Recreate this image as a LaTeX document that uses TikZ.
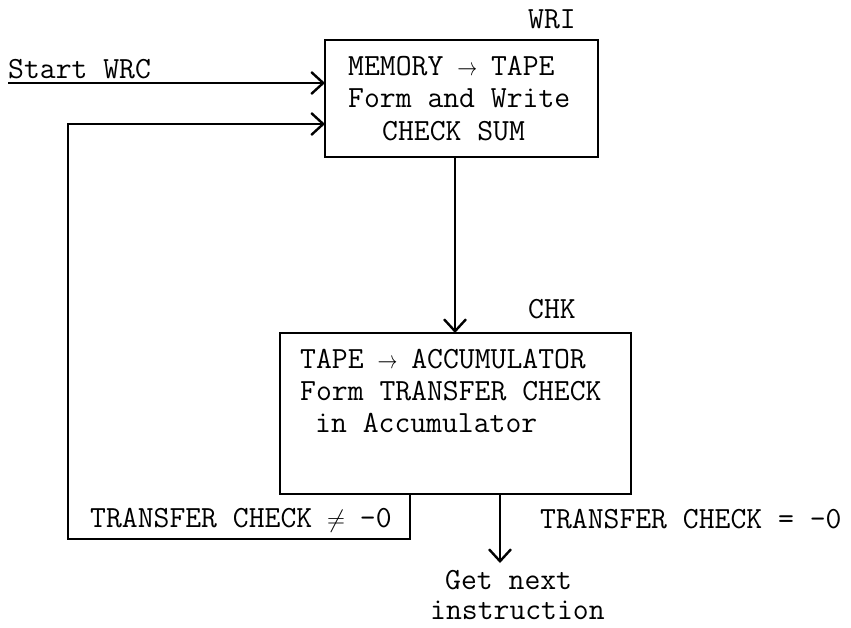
\documentclass[tikz,border=0pt]{standalone}
\usepackage{graphicx}
\usetikzlibrary{arrows.meta}
\begin{document}
\begin{tikzpicture}[x=1pt,y=-1pt,
  boxshape/.style={draw, line width=1.6pt, inner sep=0pt, outer sep=0pt},
  conn/.style={line width=1.4pt, -{Straight Barb[length=12pt,width=22pt,line width=2.4pt]}},
  txt/.style={inner sep=0pt, anchor=base west, font=\ttfamily\fontsize{30.8}{32}\selectfont}]
\useasboundingbox[fill=white] (0,0) rectangle (851,627);
\newcommand{\myarrow}{\makebox[16pt]{\scalebox{0.8}[1]{$\rightarrow$}}}
\newcommand{\myneq}{\makebox[16pt]{$\neq$}}
% boxes
\node[boxshape, minimum width=273pt, minimum height=117pt] (wri) at (461.5,98.5) {};
\node[boxshape, minimum width=351pt, minimum height=161pt] (chk) at (455.5,413.5) {};
% labels
\node[txt] (wrilabel) at (528,28) {WRI};
\node[txt] (chklabel) at (528,318) {CHK};
\node[txt] (start) at (8,78) {Start WRC};
\node[txt] (w1) at (348,75) {MEMORY \myarrow{} TAPE};
\node[txt] (w2) at (348,107.5) {Form and Write};
\node[txt] (w3) at (382,140) {CHECK SUM};
\node[txt] (c1) at (300,368) {TAPE \myarrow{} ACCUMULATOR};
\node[txt] (c2) at (300,400) {Form TRANSFER CHECK};
\node[txt] (c3) at (315,432) {in Accumulator};
\node[txt] (neq) at (90,527) {TRANSFER CHECK \myneq{} -0};
\node[txt] (eq) at (540,528) {TRANSFER CHECK = -0};
\node[txt] (g1) at (445,589) {Get next};
\node[txt] (g2) at (430,619) {instruction};
% coordinates
\coordinate (startpt) at (8,83);
\coordinate (lt) at (68,124);
\coordinate (ll) at (68,539);
\coordinate (lr) at (410,539);
\coordinate (v1) at (455,0);
\coordinate (dn) at (500,563);
% connectors
\draw[conn] (startpt) -- (startpt -| wri.west);
\draw[conn] (lr |- chk.south) -- (lr) -- (ll) -- (lt) -- (lt -| wri.west);
\draw[conn] (wri.south -| v1) -- (chk.north -| v1);
\draw[conn] (chk.south -| dn) -- (dn);
\end{tikzpicture}
\end{document}
